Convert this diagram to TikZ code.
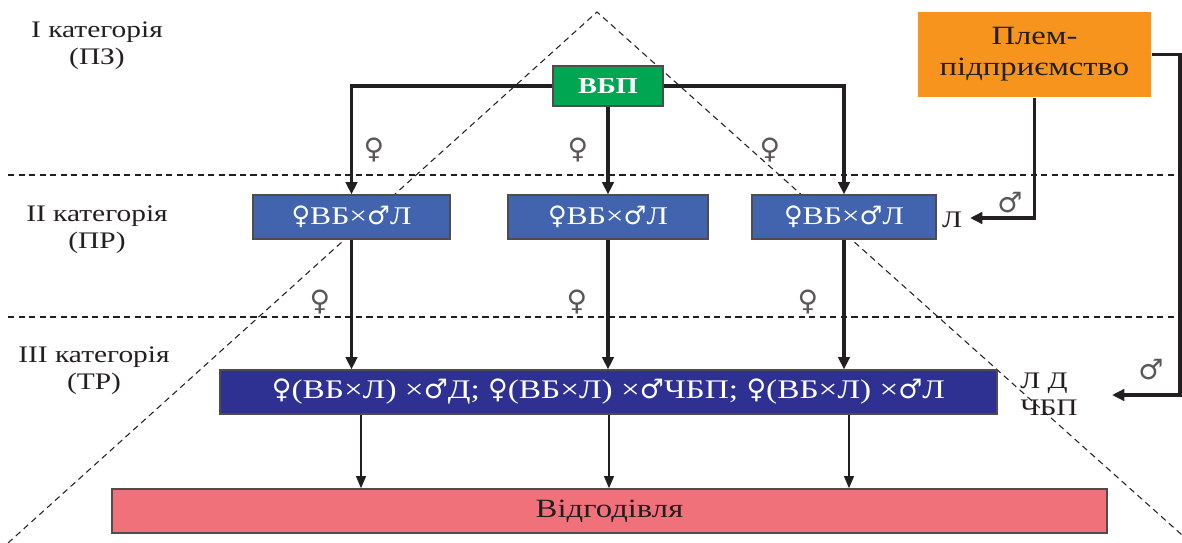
\documentclass[tikz,border=0pt]{standalone}
\usepackage{fontspec}
\setmainfont[FakeStretch=1.24]{Liberation Serif}
\newfontfamily\symfont{DejaVu Sans}
\usetikzlibrary{arrows.meta}
\newcommand{\fsym}{{\symfont ♀}}
\newcommand{\msym}{{\symfont ♂}}
\definecolor{vbpgreen}{HTML}{00A651}
\definecolor{plorange}{HTML}{F7941D}
\definecolor{midblue}{HTML}{4264AE}
\definecolor{navy}{HTML}{2E3192}
\definecolor{pinkbox}{HTML}{F0717A}
\definecolor{ink}{HTML}{231F20}
\begin{document}
\begin{tikzpicture}[x=0.02cm,y=-0.02cm,
  box/.style={draw=ink!80, line width=0.7pt, inner sep=0pt, anchor=center, align=center},
  arr/.style={draw=ink, line width=1.8pt, -{Triangle[length=7pt,width=6.5pt]}},
  thinarr/.style={draw=ink, line width=1.3pt, -{Triangle[length=7pt,width=5.5pt]}},
  guide/.style={draw=ink, line width=0.6pt, dash pattern=on 3.5pt off 2.5pt},
  cat/.style={text=ink, align=center, font=\fontsize{13.5pt}{15.5pt}\selectfont},
  sexlbl/.style={text=ink!75, font=\fontsize{16pt}{18pt}\symfont},
  bluetxt/.style={text=white, font=\fontsize{14.5pt}{16pt}\selectfont}]
\useasboundingbox (0,0) rectangle (1182,543);
% guides
\draw[guide] (8,543) -- (597,12) -- (1182,535);
\draw[guide] (8,175) -- (1182,175);
\draw[guide] (8,317) -- (1182,317);
% category labels
\node[cat] (c1) at (97,46) {I категорія\\(ПЗ)};
\node[cat] (c2) at (97,230) {II категорія\\(ПР)};
\node[cat] (c3) at (94,371) {III категорія\\(ТР)};
% boxes
\node[box, fill=vbpgreen, minimum width=2.2cm, minimum height=0.8cm, text=white, font=\fontsize{13pt}{15pt}\selectfont\bfseries] (vbp) at (608,86) {ВБП};
\node[box, draw=none, fill=plorange, minimum width=4.66cm, minimum height=1.7cm, text=ink, font=\fontsize{15pt}{17.6pt}\selectfont] (pl) at (1034.5,54.5) {Плем-\\підприємство};
\node[box, fill=midblue, minimum width=3.94cm, minimum height=0.88cm, bluetxt] (b1) at (351.5,217) {\fsym ВБ×\msym Л};
\node[box, fill=midblue, minimum width=4.0cm, minimum height=0.88cm, bluetxt] (b2) at (608,217) {\fsym ВБ×\msym Л};
\node[box, fill=midblue, minimum width=3.68cm, minimum height=0.88cm, bluetxt] (b3) at (844,217) {\fsym ВБ×\msym Л};
\node[box, fill=navy, minimum width=15.54cm, minimum height=0.88cm, bluetxt, font=\fontsize{15.3pt}{17pt}\selectfont] (t) at (608.5,392) {\fsym(ВБ×Л) ×\msym Д; \fsym(ВБ×Л) ×\msym ЧБП; \fsym(ВБ×Л) ×\msym Л};
\node[box, fill=pinkbox, minimum width=19.9cm, minimum height=0.88cm, text=ink, font=\fontsize{15pt}{17pt}\selectfont] (v) at (609.5,511) {Відгодівля};
% side texts
\node[cat] (l1) at (952,220) {Л};
\node[cat, align=left] (ld) at (1049,394) {Л Д\\ЧБП};
% coordinates
\coordinate (x1) at (361,0);
\coordinate (x2) at (609,0);
\coordinate (x3) at (849,0);
\coordinate (lend) at (970,218);
\coordinate (redge) at (1180,0);
\coordinate (rend) at (1112,395);
% connectors
\draw[arr] (vbp.west) -| (b1.north);
\draw[arr] (vbp.east) -| (b3.north);
\draw[arr] (vbp.south) -- (b2.north);
\draw[arr] (b1.south) -- (b1.south |- t.north);
\draw[arr] (b2.south) -- (b2.south |- t.north);
\draw[arr] (b3.south) -- (b3.south |- t.north);
\draw[thinarr] (t.south -| x1) -- (v.north -| x1);
\draw[thinarr] (t.south -| x2) -- (v.north -| x2);
\draw[thinarr] (t.south -| x3) -- (v.north -| x3);
\draw[arr] (pl.south) |- (lend);
\draw[arr] (pl.east) -- (pl.east -| redge) |- (rend);
% sex labels
\node[sexlbl] (f1) at (374,150) {♀};
\node[sexlbl] (f2) at (578,150) {♀};
\node[sexlbl] (f3) at (770,150) {♀};
\node[sexlbl] (f4) at (320,302) {♀};
\node[sexlbl] (f5) at (577,302) {♀};
\node[sexlbl] (f6) at (808,302) {♀};
\node[sexlbl] (m1) at (1010,203) {♂};
\node[sexlbl] (m2) at (1151,370) {♂};
\end{tikzpicture}
\end{document}
